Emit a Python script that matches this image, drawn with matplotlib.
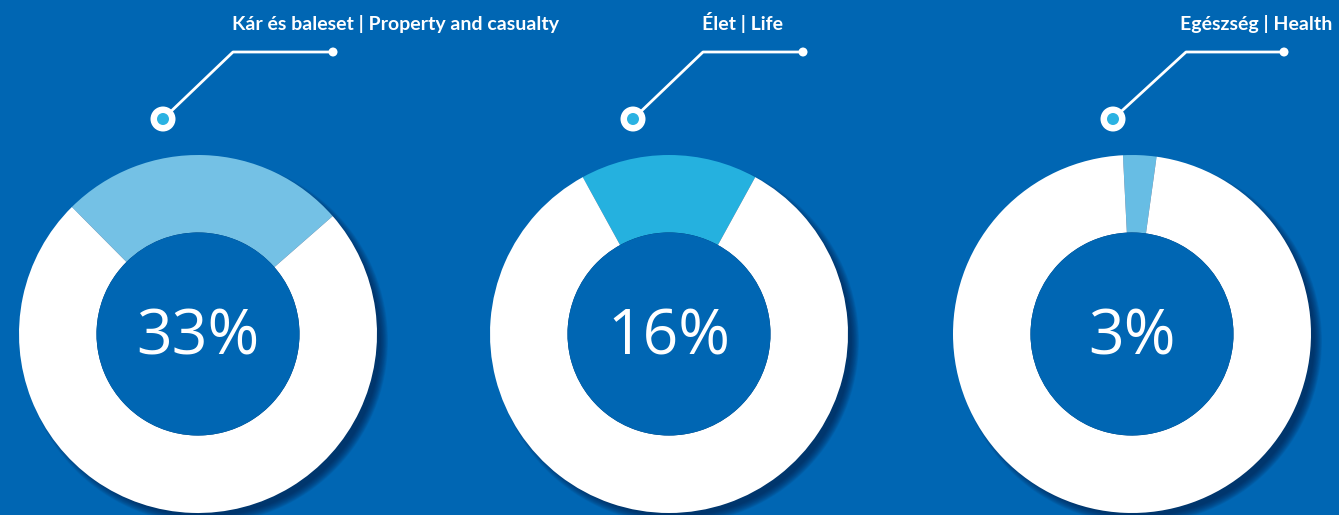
import numpy as np
import matplotlib
matplotlib.use("Agg")
import matplotlib.pyplot as plt
from matplotlib.patches import Circle

# data
labels = ["Kár és baleset | Property and casualty", "Élet | Life", "Egészség | Health"]
pct_labels = [33, 16, 3]
# share of the ring that is actually drawn highlighted (the first one is drawn smaller than its label)
wedge_share = [26, 16, 3]
wedge_colors = ["#74c1e5", "#25b1df", "#67bde4"]

# layout (pixel-ish coordinates, y up)
W, H = 1339, 515
BG = "#0066b3"
centers_x = [198, 669, 1132]
center_y = H - 334
r_out, r_in = 179, 101.5
wedge_mid = [88, 90, 87.5]
label_right = [559, 783, 1332]
ring_x = [163, 633, 1113]
elbow_x = [233, 703, 1186]
dot_x = [333, 803, 1284]

fig = plt.figure(figsize=(W / 100, H / 100), dpi=100)
fig.patch.set_facecolor(BG)
ax = fig.add_axes([0, 0, 1, 1])
ax.set_facecolor(BG)

for i in range(3):
    cx = centers_x[i]
    # soft shadow to the lower right
    for k in range(12):
        ax.add_patch(Circle((cx + 7, center_y - 7), r_out + 4 - k * 0.7,
                            facecolor="#041f4a", edgecolor="none", alpha=0.08, zorder=1))
    share = wedge_share[i]
    start = wedge_mid[i] + share * 3.6 / 2
    ax.pie([share, 100 - share], colors=[wedge_colors[i], "white"], startangle=start,
           counterclock=False, radius=r_out, center=(cx, center_y),
           wedgeprops=dict(width=r_out - r_in, edgecolor="none", linewidth=0), frame=True)
    ax.add_patch(Circle((cx, center_y), r_in, facecolor=BG, edgecolor="none", zorder=3))
    ax.text(cx, center_y - 4, f"{pct_labels[i]}%", color="white", fontsize=45,
            family="Open Sans", ha="center", va="center", zorder=4)

    # leader line with markers
    y_top = H - 52
    y_ring = H - 119
    ax.plot([ring_x[i], elbow_x[i], dot_x[i]], [y_ring, y_top, y_top],
            color="white", lw=2, zorder=5, solid_capstyle="round")
    ax.add_patch(Circle((dot_x[i], y_top), 4.5, facecolor="white", edgecolor="none", zorder=6))
    ax.add_patch(Circle((ring_x[i], y_ring), 12.5, facecolor="white", edgecolor="none", zorder=6))
    ax.add_patch(Circle((ring_x[i], y_ring), 6, facecolor="#2ab2e2", edgecolor="none", zorder=7))

    ax.text(label_right[i], H - 30, labels[i], color="white", fontsize=14,
            family="Lato", fontweight="bold", ha="right", va="baseline", zorder=5)

ax.set_xlim(0, W)
ax.set_ylim(0, H)
ax.set_aspect("auto")
ax.axis("off")

fig.savefig("out.png", dpi=100, facecolor=BG)
